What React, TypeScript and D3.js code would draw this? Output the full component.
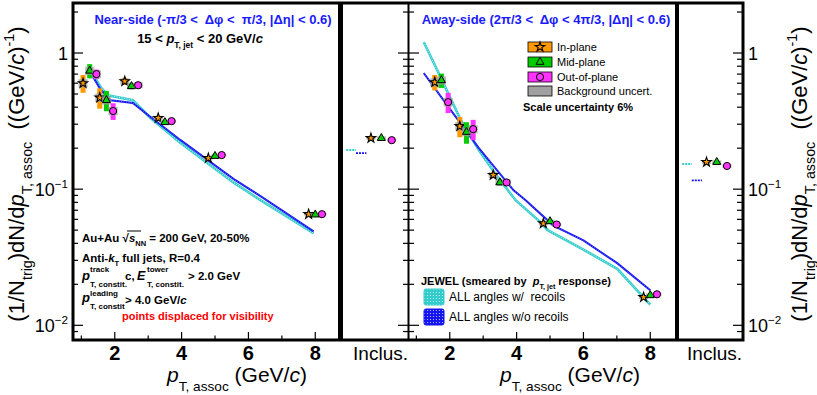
import * as d3 from "d3";
import { useEffect, useRef } from "react";

// bin centres (GeV/c), near-side
const nearPt = [1.25, 1.75, 2.5, 3.5, 5, 8];
const nearIn = [0.6, 0.47, 0.62, 0.333, 0.169, 0.0655];
const nearMid = [0.74, 0.45, 0.57, 0.31, 0.175, 0.065];
const nearOut = [0.7, 0.375, 0.58, 0.316, 0.178, 0.0655];
// relative systematic uncertainties (coloured boxes)
const nearInSys = [0.15, 0.17, 0.06, 0.04, 0.03, 0.03];
const nearMidSys = [0.12, 0.17, 0.05, 0.04, 0.03, 0.03];
const nearOutSys = [0.08, 0.14, 0.05, 0.04, 0.03, 0.03];
const nearBkg = [0.07, 0.07, 0.05, 0.03, 0.025, 0.025];

// away-side
const awayPt = [1.75, 2.5, 3.5, 5, 8];
const awayIn = [0.61, 0.29, 0.127, 0.056, 0.0161];
const awayMid = [0.63, 0.263, 0.112, 0.058, 0.0166];
const awayOut = [0.436, 0.276, 0.112, 0.055, 0.0169];
const awayInSys = [0.13, 0.17, 0.05, 0.03, 0.03];
const awayMidSys = [0.12, 0.18, 0.05, 0.03, 0.03];
const awayOutSys = [0.17, 0.17, 0.05, 0.03, 0.03];
const awayBkg = [0.07, 0.07, 0.05, 0.03, 0.03];

// JEWEL curves
const nearRecoilPt = [1.22, 1.58, 1.79, 2.54, 3.07, 3.97, 4.78, 5.55, 6.36, 7.95];
const nearRecoilVal = [0.78, 0.56, 0.49, 0.45, 0.333, 0.218, 0.155, 0.112, 0.083, 0.0475];
const nearNoRecoilPt = [1.22, 1.37, 1.58, 1.88, 2.54, 3.07, 3.97, 5.55, 6.36, 7.95];
const nearNoRecoilVal = [0.78, 0.655, 0.535, 0.45, 0.43, 0.339, 0.229, 0.119, 0.089, 0.049];
const awayRecoilPt = [1.22, 1.58, 2.33, 2.87, 3.43, 3.97, 4.72, 4.93, 6.0, 7.01, 8.0];
const awayRecoilVal = [1.205, 0.789, 0.322, 0.194, 0.123, 0.083, 0.057, 0.05, 0.036, 0.026, 0.0142];
const awayNoRecoilPt = [1.22, 2.03, 2.87, 3.91, 4.27, 5.1, 6.0, 7.01, 8.0];
const awayNoRecoilVal = [0.713, 0.381, 0.2, 0.098, 0.083, 0.054, 0.042, 0.0286, 0.0181];

// inclusive bin: in / mid / out, then JEWEL w/ and w/o recoils
const inclNearVals = [0.237, 0.237, 0.229];
const inclNearJewel = [0.194, 0.184];
const inclAwayVals = [0.158, 0.158, 0.148];
const inclAwayJewel = [0.153, 0.116];

const xMajor = [2, 4, 6, 8];
const xMinor = [1, 3, 5, 7];
const yMajor = [1, 0.1, 0.01];
const planeNames = ["In-plane", "Mid-plane", "Out-of-plane", "Background uncert."];

const FONT = "'Liberation Sans', Arial, Helvetica, sans-serif";
const ORANGE = "#ff9900";
const GREEN = "#00cc00";
const MAGENTA = "#ff33ff";
const GREY = "#a0a0a0";
const CYAN = "#33cccc";
const BLUE = "#1414f0";
const TITLE_BLUE = "#1a1aff";

type Part = { t: string; s?: "sub" | "sup"; i?: boolean };

function rich(g: any, x: number, y: number, parts: Part[], size: number, o: any = {}) {
  const t = g
    .append("text")
    .attr("x", x)
    .attr("y", y)
    .attr("font-size", size)
    .attr("font-weight", o.weight || "normal")
    .attr("fill", o.fill || "#000")
    .attr("text-anchor", o.anchor || "start")
    .style("white-space", "pre");
  let cur = 0;
  parts.forEach((p) => {
    const shift = p.s === "sub" ? size * (o.subShift || 0.35) : p.s === "sup" ? -size * 0.45 : 0;
    const ts = t.append("tspan").attr("dy", shift - cur).text(p.t);
    cur = shift;
    if (p.s) ts.attr("font-size", size * (o.subScale || 0.65));
    if (p.i) ts.attr("font-style", "italic");
  });
  return t;
}

const App = () => {
  const ref = useRef<SVGSVGElement>(null);

  useEffect(() => {
    const svg = d3.select(ref.current);
    svg.selectAll("*").remove();
    svg.attr("font-family", FONT);

    const top = 3;
    const bottom = 340;
    const y = d3.scaleLog().domain([0.0078, 2.33]).range([bottom, top]);
    const xNear = d3.scaleLinear().domain([0.75, 8.8]).range([73, 342]);
    const xAway = d3.scaleLinear().domain([0.75, 8.8]).range([408, 677]);
    const inNear = d3.scaleLinear().domain([0, 1]).range([343, 408]);
    const inAway = d3.scaleLinear().domain([0, 1]).range([679, 743]);

    // dotted fill patterns for JEWEL legend
    const defs = svg.append("defs");
    [
      ["dotCyan", CYAN],
      ["dotBlue", BLUE],
    ].forEach(([id, c]) => {
      const p = defs
        .append("pattern")
        .attr("id", id)
        .attr("width", 3)
        .attr("height", 3)
        .attr("patternUnits", "userSpaceOnUse");
      p.append("rect").attr("width", 3).attr("height", 3).attr("fill", c);
      p.append("circle").attr("cx", 1.5).attr("cy", 1.5).attr("r", 0.6).attr("fill", "#fff").attr("opacity", 0.8);
    });

    // JEWEL curves
    const drawCurve = (xs: any, pts: number[], vals: number[], color: string, w: number, dots: number) => {
      const line = d3
        .line<number>()
        .x((d, i) => xs(pts[i]))
        .y((d) => y(d));
      svg.append("path").attr("d", line(vals)).attr("fill", "none").attr("stroke", color).attr("stroke-width", w);
      svg
        .append("path")
        .attr("d", line(vals))
        .attr("fill", "none")
        .attr("stroke", "#fff")
        .attr("stroke-width", 1)
        .attr("stroke-dasharray", "1 1.5")
        .attr("opacity", dots);
    };
    drawCurve(xNear, nearRecoilPt, nearRecoilVal, CYAN, 2.6, 0.7);
    drawCurve(xNear, nearNoRecoilPt, nearNoRecoilVal, BLUE, 2, 0.35);
    drawCurve(xAway, awayRecoilPt, awayRecoilVal, CYAN, 2.6, 0.7);
    drawCurve(xAway, awayNoRecoilPt, awayNoRecoilVal, BLUE, 2, 0.35);

    // markers
    const marker = (g: any, k: number, cx: number, cy: number) => {
      if (k === 0) {
        g.append("path")
          .attr("d", d3.symbol().type(d3.symbolStar).size(28)())
          .attr("transform", `translate(${cx},${cy})`)
          .attr("fill", ORANGE)
          .attr("stroke", "#000")
          .attr("stroke-width", 1.1);
      } else if (k === 1) {
        g.append("path")
          .attr("d", d3.symbol().type(d3.symbolTriangle).size(28)())
          .attr("transform", `translate(${cx},${cy})`)
          .attr("fill", GREEN)
          .attr("stroke", "#000")
          .attr("stroke-width", 1);
      } else {
        g.append("circle").attr("cx", cx).attr("cy", cy).attr("r", 3.6).attr("fill", MAGENTA).attr("stroke", "#000").attr("stroke-width", 1);
      }
    };
    const colors = [ORANGE, GREEN, MAGENTA];

    const drawPoints = (xs: any, pts: number[], series: number[][], sys: number[][], bkg: number[]) => {
      const g = svg.append("g");
      series.forEach((vals, k) => {
        const off = (k - 1) * 0.2;
        vals.forEach((v, i) => {
          const cx = xs(pts[i] + off);
          g.append("rect")
            .attr("x", cx - 2.5)
            .attr("width", 5)
            .attr("y", y(v * (1 + sys[k][i])))
            .attr("height", y(v * (1 - sys[k][i])) - y(v * (1 + sys[k][i])))
            .attr("fill", colors[k]);
          g.append("rect")
            .attr("x", cx - 4.5)
            .attr("width", 9)
            .attr("y", y(v * (1 + bkg[i])))
            .attr("height", y(v * (1 - bkg[i])) - y(v * (1 + bkg[i])))
            .attr("fill", GREY)
            .attr("opacity", 0.75);
          marker(g, k, cx, y(v));
        });
      });
    };
    drawPoints(xNear, nearPt, [nearIn, nearMid, nearOut], [nearInSys, nearMidSys, nearOutSys], nearBkg);
    drawPoints(xAway, awayPt, [awayIn, awayMid, awayOut], [awayInSys, awayMidSys, awayOutSys], awayBkg);

    // inclusive bins
    const inclPos = [0.43, 0.59, 0.75];
    const drawIncl = (xs: any, vals: number[], jewel: number[]) => {
      const g = svg.append("g");
      g.append("line")
        .attr("x1", xs(0.05))
        .attr("x2", xs(0.2))
        .attr("y1", y(jewel[0]))
        .attr("y2", y(jewel[0]))
        .attr("stroke", CYAN)
        .attr("stroke-width", 2)
        .attr("stroke-dasharray", "2 1");
      g.append("line")
        .attr("x1", xs(0.2))
        .attr("x2", xs(0.36))
        .attr("y1", y(jewel[1]))
        .attr("y2", y(jewel[1]))
        .attr("stroke", BLUE)
        .attr("stroke-width", 1.6)
        .attr("stroke-dasharray", "2 1");
      vals.forEach((v, k) => {
        const cx = xs(inclPos[k]);
        g.append("rect")
          .attr("x", cx - 4.5)
          .attr("width", 9)
          .attr("y", y(v * 1.03))
          .attr("height", y(v * 0.97) - y(v * 1.03))
          .attr("fill", GREY)
          .attr("opacity", 0.75);
        marker(g, k, cx, y(v));
      });
    };
    drawIncl(inNear, inclNearVals, inclNearJewel);
    drawIncl(inAway, inclAwayVals, inclAwayJewel);

    // frame
    const frame = svg.append("g").attr("stroke", "#000").attr("fill", "none");
    frame.append("rect").attr("x", 73).attr("y", top).attr("width", 670).attr("height", bottom - top).attr("stroke-width", 3);
    frame.append("line").attr("x1", 340.5).attr("x2", 340.5).attr("y1", top).attr("y2", bottom).attr("stroke-width", 5);
    frame.append("line").attr("x1", 408.5).attr("x2", 408.5).attr("y1", top).attr("y2", bottom).attr("stroke-width", 2);
    frame.append("line").attr("x1", 677).attr("x2", 677).attr("y1", top).attr("y2", bottom).attr("stroke-width", 4);

    // y ticks
    const minors: number[] = [];
    [0.001, 0.01, 0.1, 1].forEach((d) => d3.range(2, 10).forEach((m) => minors.push(d * m)));
    const yMinor = minors.filter((v) => v > 0.0085 && v < 2.3);
    const tickG = svg.append("g").attr("stroke", "#000").attr("stroke-width", 1.2);
    const yTicks = (x1: number, x2: number, vals: number[]) =>
      vals.forEach((v) => tickG.append("line").attr("x1", x1).attr("x2", x2).attr("y1", y(v)).attr("y2", y(v)));
    yTicks(73, 83, yMajor);
    yTicks(73, 78, yMinor);
    yTicks(398, 419, yMajor);
    yTicks(403, 414, yMinor);
    yTicks(733, 743, yMajor);
    yTicks(737, 743, yMinor);

    // x ticks
    [xNear, xAway].forEach((xs) => {
      xMajor.forEach((v) => tickG.append("line").attr("x1", xs(v)).attr("x2", xs(v)).attr("y1", bottom).attr("y2", bottom - 8));
      xMinor.forEach((v) => tickG.append("line").attr("x1", xs(v)).attr("x2", xs(v)).attr("y1", bottom).attr("y2", bottom - 4.5));
      xMajor.forEach((v) =>
        svg
          .append("text")
          .attr("x", xs(v))
          .attr("y", 360)
          .attr("text-anchor", "middle")
          .attr("font-size", 20)
          .attr("font-weight", "bold")
          .text(v)
      );
    });
    svg.append("text").attr("x", 408).attr("y", 360).attr("text-anchor", "end").attr("font-size", 19).text("Inclus.");
    svg.append("text").attr("x", 742).attr("y", 360).attr("text-anchor", "end").attr("font-size", 19).text("Inclus.");

    // y tick labels
    const yLab = (x: number, anchor: string) =>
      yMajor.forEach((v) => {
        const parts: Part[] = v === 1 ? [{ t: "1" }] : [{ t: "10" }, { t: v === 0.1 ? "\u22121" : "\u22122", s: "sup" }];
        rich(svg, x, y(v) + 7, parts, 18, { anchor });
      });
    yLab(68, "end");
    yLab(748, "start");

    // axis titles
    const xTitle: Part[] = [{ t: "p", i: true }, { t: "T, assoc", s: "sub" }, { t: " (GeV/" }, { t: "c", i: true }, { t: ")" }];
    rich(svg, 167, 382, xTitle, 21, { subShift: 0.42 });
    rich(svg, 500, 382, xTitle, 21, { subShift: 0.42 });
    const yTitle: Part[] = [
      { t: "(1/N" },
      { t: "trig", s: "sub" },
      { t: ")dN/d" },
      { t: "p", i: true },
      { t: "T, assoc", s: "sub" },
      { t: "  ((GeV/" },
      { t: "c", i: true },
      { t: ")" },
      { t: "-1", s: "sup" },
      { t: ")" },
    ];
    rich(svg.append("g").attr("transform", "translate(24,174) rotate(-90)"), 0, 0, yTitle, 22, { anchor: "middle" });
    rich(svg.append("g").attr("transform", "translate(807,174) rotate(-90)"), 0, 0, yTitle, 22, { anchor: "middle" });

    // panel titles
    rich(svg, 213, 24, [{ t: "Near-side (-\u03c0/3 <  \u0394\u03c6 <  \u03c0/3, |\u0394\u03b7| < 0.6)" }], 13, {
      anchor: "middle",
      weight: "bold",
      fill: TITLE_BLUE,
    });
    rich(svg, 546, 24, [{ t: "Away-side (2\u03c0/3 <  \u0394\u03c6 < 4\u03c0/3, |\u0394\u03b7| < 0.6)" }], 13, {
      anchor: "middle",
      weight: "bold",
      fill: TITLE_BLUE,
    });
    rich(
      svg,
      200,
      43,
      [{ t: "15 < " }, { t: "p", i: true }, { t: "T, jet", s: "sub" }, { t: " < 20 GeV/" }, { t: "c", i: true }],
      13,
      { anchor: "middle", weight: "bold" }
    );

    // event info
    rich(
      svg,
      82,
      242,
      [{ t: "Au+Au " }, { t: "\u221a" }, { t: "s", i: true }, { t: "NN", s: "sub" }, { t: " = 200 GeV, 20-50%" }],
      11.5,
      { weight: "bold" }
    );
    svg.append("line").attr("x1", 127).attr("x2", 141).attr("y1", 231).attr("y2", 231).attr("stroke", "#000").attr("stroke-width", 1);
    rich(svg, 82, 262, [{ t: "Anti-" }, { t: "k", i: true }, { t: "T", s: "sub" }, { t: " full jets, R=0.4" }], 11.5, {
      weight: "bold",
    });
    const small = (x: number, yy: number, s: string, size: number, italic = false) =>
      svg
        .append("text")
        .attr("x", x)
        .attr("y", yy)
        .attr("font-size", size)
        .attr("font-weight", "bold")
        .attr("font-style", italic ? "italic" : "normal")
        .style("white-space", "pre")
        .text(s);
    small(82, 280, "p", 13, true);
    small(90, 272, "track", 8);
    small(90, 287, "T, constit.", 8);
    small(125, 280, "c,", 11.5);
    small(137, 280, "E", 12.5, true);
    small(147, 272, "tower", 8);
    small(147, 287, "T, constit.", 8);
    small(188, 280, "> 2.0 GeV", 11.5);
    small(82, 302, "p", 13, true);
    small(90, 296, "leading", 8);
    small(90, 309, "T, constit", 8);
    rich(svg, 125, 304, [{ t: "> 4.0 GeV/" }, { t: "c", i: true }], 11.5, { weight: "bold" });
    rich(svg, 122, 320, [{ t: "points displaced for visibility" }], 11, { weight: "bold", fill: "#ff0000" });

    // legend: planes
    const legCy = [47, 62, 77, 91];
    planeNames.forEach((name, k) => {
      svg
        .append("rect")
        .attr("x", 528)
        .attr("y", legCy[k] - 5)
        .attr("width", 24)
        .attr("height", 10)
        .attr("fill", k < 3 ? colors[k] : GREY)
        .attr("stroke", "#000")
        .attr("stroke-width", 0.8);
      if (k < 3) marker(svg, k, 540, legCy[k]);
      svg.append("text").attr("x", 557).attr("y", legCy[k] + 4).attr("font-size", 11).text(name);
    });
    svg.append("text").attr("x", 523).attr("y", 111).attr("font-size", 11).attr("font-weight", "bold").text("Scale uncertainty 6%");

    // legend: JEWEL
    rich(
      svg,
      421,
      285,
      [{ t: "JEWEL (smeared by  " }, { t: "p", i: true }, { t: "T, jet", s: "sub" }, { t: " response)" }],
      11,
      { weight: "bold" }
    );
    [
      ["dotCyan", "ALL angles w/  recoils", 289, CYAN],
      ["dotBlue", "ALL angles w/o recoils", 309, BLUE],
    ].forEach(([pat, label, yy, c]) => {
      svg
        .append("rect")
        .attr("x", 424)
        .attr("y", yy)
        .attr("width", 20)
        .attr("height", 16)
        .attr("rx", 2)
        .attr("fill", `url(#${pat})`)
        .attr("stroke", c)
        .attr("stroke-width", 1);
      svg
        .append("text")
        .attr("x", 449)
        .attr("y", (yy as number) + 12)
        .attr("font-size", 12)
        .style("white-space", "pre")
        .text(label as string);
    });
  }, []);

  return <svg ref={ref} width={817} height={395} style={{ position: "absolute", left: 0, top: 0, background: "#fff" }} />;
};

export default App;
